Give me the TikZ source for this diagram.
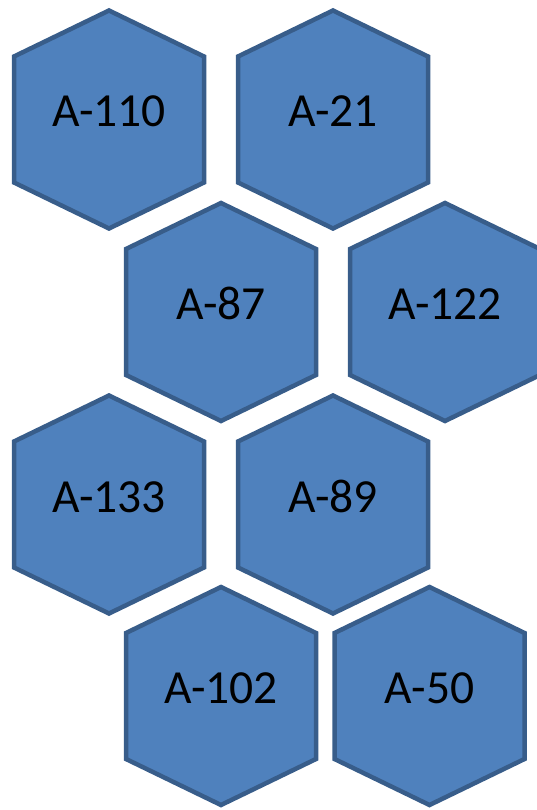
\documentclass[tikz,border=0pt]{standalone}
\usepackage{fontspec}
\setmainfont{Carlito}
\definecolor{hexfill}{HTML}{4F81BD}
\definecolor{hexline}{HTML}{385D8A}
\tikzset{
  hexagon/.style={fill=hexfill, draw=hexline, line width=4.5pt, line join=miter},
  hexlabel/.style={anchor=base, inner sep=0pt, font=\fontsize{47.5}{57}\selectfont, text=black}
}
\begin{document}
\begin{tikzpicture}[x=1pt,y=-1pt]
\useasboundingbox (0,0) rectangle (537,810);
\clip (0,0) rectangle (537,810);
\foreach \cx/\cy/\lab/\nm in {109/119.5/A-110/h1, 333/119.5/A-21/h2, 221/312/A-87/h3, 445/312/A-122/h4, 109/504.5/A-133/h5, 333/504.5/A-89/h6, 221/696/A-102/h7, 429.5/696/A-50/h8}{
  \draw[hexagon] (\cx,\cy-109) -- (\cx+95,\cy-63) -- (\cx+95,\cy+63) -- (\cx,\cy+109) -- (\cx-95,\cy+63) -- (\cx-95,\cy-63) -- cycle;
  \node[hexlabel] (\nm) at (\cx,\cy+7.5) {\lab};
}
\end{tikzpicture}
\end{document}
